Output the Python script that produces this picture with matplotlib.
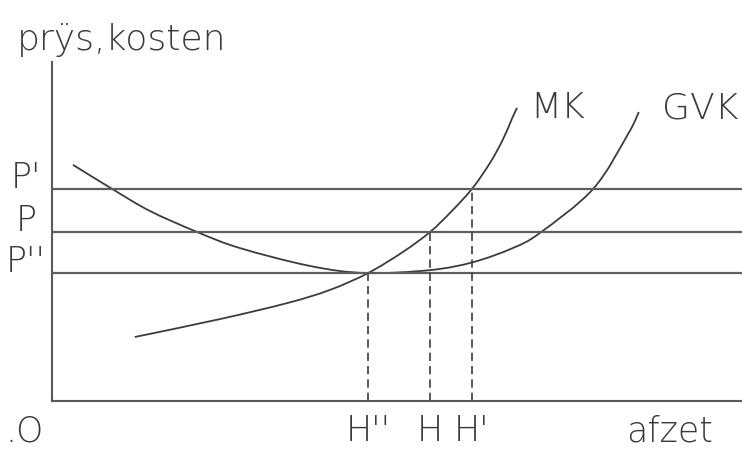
import matplotlib
matplotlib.use("Agg")
import matplotlib.pyplot as plt
from matplotlib.path import Path
from matplotlib.patches import PathPatch

# Hand-drawn price/cost diagram (quantity units on x, price units on y)
mk_x = [13.8, 28.0, 39.2, 46.3, 52.7, 58.5, 63.0, 66.5, 70.0, 73.0, 75.2, 76.7, 77.5]
mk_y = [20.0, 25.6, 30.6, 34.7, 40.0, 46.6, 52.8, 59.1, 66.3, 74.4, 81.9, 88.4, 91.6]

gvk_x = [3.5, 10.0, 16.3, 24.2, 31.3, 43.0, 52.2, 63.0, 70.2, 76.8, 81.3, 90.2, 96.0, 97.8]
gvk_y = [73.8, 66.3, 59.4, 52.8, 47.8, 42.2, 40.0, 40.9, 43.4, 47.8, 52.5, 66.3, 83.4, 90.3]

price_levels = [66.3, 52.8, 40.0]          # P', P, P''
price_labels = ["P'", "P", "P''"]
quantities = [52.7, 63.0, 70.0]            # H'', H, H'
quantity_labels = ["H''", "H", "H'"]
quantity_heights = [40.0, 52.8, 66.3]


def smooth_path(xs, ys):
    """Catmull-Rom style Bezier path through the given points."""
    pts = list(zip(xs, ys))
    verts = [pts[0]]
    codes = [Path.MOVETO]
    n = len(pts)
    for i in range(n - 1):
        p0 = pts[i - 1] if i > 0 else pts[i]
        p1 = pts[i]
        p2 = pts[i + 1]
        p3 = pts[i + 2] if i + 2 < n else pts[i + 1]
        c1 = (p1[0] + (p2[0] - p0[0]) / 6, p1[1] + (p2[1] - p0[1]) / 6)
        c2 = (p2[0] - (p3[0] - p1[0]) / 6, p2[1] - (p3[1] - p1[1]) / 6)
        verts += [c1, c2, p2]
        codes += [Path.CURVE4] * 3
    return Path(verts, codes)


W, H = 742, 450
fig = plt.figure(figsize=(W / 100, H / 100), dpi=100)
ax = fig.add_axes([52 / W, 49 / H, 690 / W, 339 / H])
ax.set_xlim(0, 690 / 6)
ax.set_ylim(0, 339 / 3.2)
for s in ["top", "right"]:
    ax.spines[s].set_visible(False)
for s in ["left", "bottom"]:
    ax.spines[s].set_color("#5a5a5a")
    ax.spines[s].set_linewidth(1.5)
ax.set_xticks([])
ax.set_yticks([])

ink = "#3c3c3c"
txt = "#3a3a3a"
font = dict(family=["DejaVu Sans"], color=txt, fontweight="light")

for p in price_levels:
    ax.axhline(p, color="#5e5e5e", lw=1.6)

for xs, ys in [(mk_x, mk_y), (gvk_x, gvk_y)]:
    ax.add_patch(PathPatch(smooth_path(xs, ys), fill=False, edgecolor=ink, lw=1.3))

ax.vlines(quantities, 0, quantity_heights, colors=ink, lw=1.2, linestyles=(0, (5, 3)))

for p, lab in zip(price_levels, price_labels):
    ax.text(-4.3, p + 3.5, lab, ha="center", va="center", fontsize=25, clip_on=False, **font)

for q, lab in zip(quantities, quantity_labels):
    ax.text(q, -9.5, lab, ha="center", va="center", fontsize=25, clip_on=False, **font)

ax.text(-4.5, -9.5, ".O", ha="center", va="center", fontsize=25, clip_on=False, **font)
ax.text(103.0, -9.5, "afzet", ha="center", va="center", fontsize=25, clip_on=False, **font)
ax.text(84.2, 91.5, "MK", ha="center", va="center", fontsize=26, clip_on=False, **font)
ax.text(108, 91.5, "GVK", ha="center", va="center", fontsize=26, clip_on=False, **font)
fig.text(17 / W, 1 - 40 / H, "prÿs,kosten", ha="left", va="center", fontsize=26, **font)

fig.savefig("out.png", dpi=100, facecolor="white")
